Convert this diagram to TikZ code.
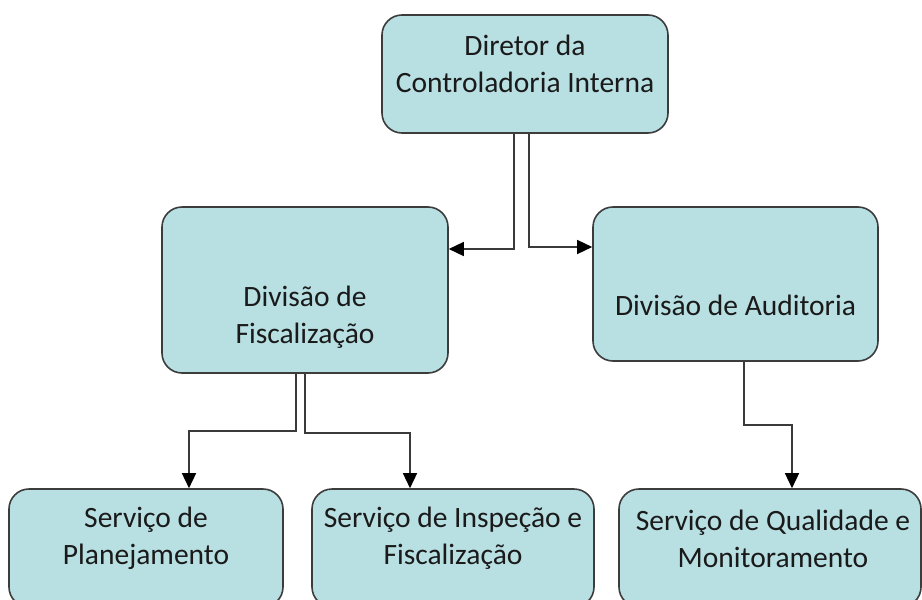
\documentclass[tikz,border=0pt]{standalone}
\usepackage{fontspec}
\setmainfont{Carlito}
\usetikzlibrary{arrows.meta,calc}
\definecolor{boxfill}{HTML}{B8DFE2}
\definecolor{boxline}{HTML}{3C3C3C}
\definecolor{connline}{HTML}{3A3A3A}
\definecolor{txt}{HTML}{1A1A1A}
\tikzset{
  orgbox/.style={draw=boxline, line width=1.6pt, fill=boxfill, rounded corners=20pt, inner sep=0pt},
  lbl/.style={align=center, text=txt, font=\fontsize{29.5}{37}\selectfont, inner sep=0pt},
  conn/.style={draw=connline, line width=1.5pt, -{Triangle[length=15pt,width=14pt,fill=black,color=black]}}
}
\begin{document}
\begin{tikzpicture}[x=1pt,y=-1pt]
\useasboundingbox (0,0) rectangle (922,600);
\begin{scope}
\clip (0,0) rectangle (922,600);
% boxes
\node[orgbox, minimum width=286pt, minimum height=118pt] (dir) at (525,74) {};
\node[orgbox, minimum width=286pt, minimum height=166pt] (fisc) at (305,290) {};
\node[orgbox, minimum width=285pt, minimum height=154pt] (aud) at (735.5,284) {};
\node[orgbox, minimum width=274pt, minimum height=118pt] (plan) at (146,548) {};
\node[orgbox, minimum width=282pt, minimum height=118pt] (insp) at (453,548) {};
\node[orgbox, minimum width=302pt, minimum height=118pt] (qual) at (770,548) {};
% labels
\node[lbl] (tdir) at ($(dir.center)+(0,-10.5)$) {Diretor da\\Controladoria Interna};
\node[lbl] (tfisc) at ($(fisc.center)+(0,27)$) {Divisão de\\Fiscalização};
\node[lbl] (taud) at ($(aud.center)+(0,21)$) {Divisão de Auditoria};
\node[lbl] (tplan) at ($(plan.center)+(0,-9.5)$) {Serviço de\\Planejamento};
\node[lbl] (tinsp) at ($(insp.center)+(0,-9.5)$) {Serviço de Inspeção e\\Fiscalização};
\node[lbl] (tqual) at ($(qual.center)+(3,-9.5)$) {Serviço de Qualidade e\\Monitoramento};
% connectors
\draw[conn] ([xshift=-11pt]dir.south) |- ([yshift=41pt]fisc.east);
\draw[conn] ([xshift=4pt]dir.south) |- ([yshift=37pt]aud.west);
\draw[conn] ([xshift=-9pt]fisc.south) -- ++(0,57) -| ([xshift=43pt]plan.north);
\draw[conn] (fisc.south) -- ++(0,59) -| ([xshift=-43pt]insp.north);
\draw[conn] ([xshift=8.5pt]aud.south) -- ++(0,63) -| ([xshift=22pt]qual.north);
\end{scope}
\end{tikzpicture}
\end{document}
